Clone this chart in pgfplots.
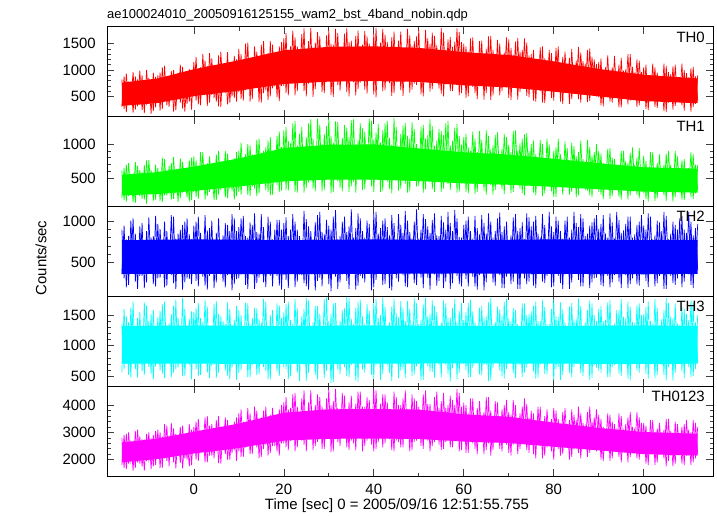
\documentclass[border=0pt]{standalone}
\usepackage{pgfplots}
\usepackage{pgfplotstable}
\pgfplotsset{compat=1.18}
\usepackage{fontspec}
\setmainfont{Liberation Sans}
\definecolor{cR}{RGB}{255,0,0}
\definecolor{cG}{RGB}{0,255,0}
\definecolor{cB}{RGB}{0,0,255}
\definecolor{cC}{RGB}{0,255,255}
\definecolor{cM}{RGB}{255,0,255}
\pgfplotstableread{
t a b c d e f g h i j
-16.0 820 610 900 1350 2800 300 210 350 560 1800
-15.5 260 180 300 620 1700 880 650 950 1600 2900
-15.0 930 700 780 1480 2950 200 160 190 700 1650
-14.5 350 240 220 520 1850 780 720 820 1380 3000
-14.0 760 560 1010 1620 2700 390 280 400 480 1950
-13.5 190 150 380 700 1600 960 540 1040 1720 2600
-13.0 880 740 850 1300 3050 250 140 260 610 1700
-12.5 310 260 170 480 1900 820 680 740 1450 3100
-12.0 990 620 940 1550 2850 340 240 330 760 1850
-11.5 240 200 330 580 1750 900 590 980 1250 2750
-11.0 720 690 760 1710 2650 180 190 180 520 1600
-10.5 380 130 250 750 1950 1000 760 880 1660 2950
-10.0 850 770 1050 1400 3000 360 270 420 650 2000
-9.5 170 280 410 530 1650 740 620 800 1520 2700
-9.0 950 530 820 1590 2900 220 170 230 450 1750
-8.5 290 190 200 660 1800 870 700 1070 1300 3050
-8.0 900 650 970 1460 3100 420 300 300 700 2100
-7.5 230 170 310 590 1700 950 600 910 1570 3000
-7.0 1050 800 730 1680 2850 260 150 380 540 1700
-6.5 410 250 190 470 2050 1080 780 1000 1720 3300
-6.0 820 580 880 1330 3250 330 250 210 780 1950
-5.5 300 310 360 720 1750 800 680 760 1360 2800
-5.0 980 720 1080 1520 3350 450 190 340 480 2100
-4.5 210 200 240 560 1900 1000 810 1060 1650 3150
-4.0 870 610 790 1750 2950 240 280 170 620 1680
-3.5 440 150 420 640 2150 900 560 850 1450 2900
-3.0 1100 790 900 1280 3200 380 210 400 730 1880
-2.5 270 290 160 500 1680 1060 740 960 1780 3250
-2.0 790 540 1000 1600 2780 210 320 250 510 2050
-1.5 360 220 300 780 2000 850 620 1040 1300 2750
-1.0 1020 760 840 1440 3300 400 160 290 680 1750
-0.5 250 180 230 450 1800 990 800 780 1560 3100
0.0 1150 820 950 1550 3200 500 300 380 700 2250
0.5 420 230 270 610 2000 1250 760 1000 1620 3400
1.0 980 660 1060 1700 3500 350 200 200 500 1950
1.5 330 340 380 520 2300 1050 880 860 1450 3050
2.0 1300 880 770 1380 3050 600 350 320 790 2350
2.5 550 190 210 740 1900 1180 640 1080 1750 3550
3.0 1080 720 890 1640 3600 320 240 160 560 1900
3.5 380 300 330 470 2150 1320 820 920 1300 3250
4.0 1220 610 1010 1290 3300 530 370 410 660 2150
4.5 470 180 180 690 2050 990 700 780 1680 3000
5.0 1000 850 860 1730 3450 400 180 250 470 2300
5.5 310 260 400 560 1870 1280 900 1040 1520 3600
6.0 1350 700 720 1480 3100 300 330 350 740 1850
6.5 590 370 260 800 2350 1100 660 830 1400 3150
7.0 1120 900 980 1350 3550 560 220 190 590 2200
7.5 350 210 340 510 2000 1340 860 960 1710 3450
8.0 960 640 880 1600 3000 380 350 380 450 2000
8.5 500 320 150 640 2250 1020 730 1090 1330 3100
9.0 1270 790 1040 1420 3400 470 190 230 780 2350
9.5 400 240 290 440 1950 1200 880 880 1650 3550
10.0 1400 900 930 1580 3700 580 300 300 550 2300
10.5 450 260 350 600 2100 1300 1020 1040 1500 3850
11.0 1150 780 1070 1320 3400 420 410 390 740 2100
11.5 620 410 220 720 2450 1500 850 820 1700 3350
12.0 1520 1000 800 1690 3900 660 260 170 480 2500
12.5 400 240 380 480 2200 1180 980 990 1350 3700
13.0 1230 850 960 1450 3300 450 380 350 680 2200
13.5 690 350 170 770 2550 1450 760 1100 1620 3950
14.0 1350 1060 870 1610 3800 700 240 240 520 2450
14.5 390 280 310 530 2050 1250 1080 850 1430 3500
15.0 1480 820 1090 1380 3550 380 430 420 760 2100
15.5 560 440 250 650 2400 1550 900 930 1760 3800
16.0 1200 950 760 1720 3950 620 330 190 590 2550
16.5 430 300 420 450 2150 1320 1050 1060 1310 3300
17.0 1550 1100 1000 1500 3650 500 250 330 450 2250
17.5 650 260 200 700 2500 1480 780 780 1580 3900
18.0 1280 880 900 1290 3400 690 450 400 720 2500
18.5 480 400 330 580 2300 1150 1120 1020 1690 3600
19.0 1450 1180 1020 1660 3850 410 300 210 500 2150
19.5 700 320 160 760 2600 1530 960 900 1450 4000
20.0 1600 1200 980 1540 4100 700 450 350 650 2600
20.5 560 330 280 620 2450 1700 1250 1050 1680 4300
21.0 1380 1050 820 1720 3850 520 320 180 450 2350
21.5 790 470 390 500 2700 1450 1010 900 1420 3900
22.0 1750 1300 1090 1350 4400 820 500 420 780 2800
22.5 520 300 190 740 2300 1620 1340 1000 1760 4450
23.0 1450 980 900 1610 3950 600 290 260 560 2450
23.5 830 510 350 420 2800 1380 1150 820 1330 3750
24.0 1680 1250 760 1480 4250 760 520 340 700 2700
24.5 600 290 240 680 2550 1790 960 1130 1600 4550
25.0 1350 1100 1030 1780 3700 500 360 200 420 2300
25.5 740 440 160 560 2850 1550 1300 940 1740 4100
26.0 1800 1360 880 1310 4550 840 470 390 760 2850
26.5 490 350 410 790 2350 1430 1080 780 1380 3800
27.0 1520 920 990 1650 4000 640 310 150 520 2500
27.5 860 530 270 450 2650 1720 1370 1080 1650 4400
28.0 1640 1280 1120 1520 4300 780 540 310 800 2750
28.5 580 310 200 700 2400 1350 1000 870 1300 3950
29.0 1400 1150 840 1760 3800 560 330 420 470 2400
29.5 780 480 380 590 2900 1660 1260 1020 1790 4250
30.0 1760 1380 950 1400 4600 850 490 230 690 2800
30.5 530 280 140 390 2280 1500 1120 900 1520 4000
31.0 1480 1020 1060 1690 4150 490 300 380 400 2300
31.5 820 500 320 760 2750 1780 1330 1140 1700 4600
32.0 1700 1320 780 1330 3900 720 460 170 610 2650
32.5 610 360 250 540 2500 1410 970 820 1410 3700
33.0 1330 1090 1000 1580 4450 830 310 350 770 2850
33.5 850 540 420 650 2850 1690 1280 1060 1610 4350
34.0 1790 1240 870 1800 3750 580 520 270 500 2450
34.5 500 300 170 480 2350 1530 1100 940 1780 4100
35.0 1560 1350 1150 1440 4350 800 380 410 680 2700
35.5 770 450 360 720 2600 1360 1360 800 1350 3850
36.0 1650 960 920 1620 4050 520 290 160 430 2350
36.5 640 520 210 410 2800 1750 1050 1100 1720 4500
37.0 1420 1300 1040 1750 4500 760 510 330 750 2800
37.5 840 330 300 610 2300 1480 1230 880 1480 3950
38.0 1740 1180 800 1360 3950 630 340 250 560 2500
38.5 550 490 400 780 2700 1640 990 1010 1680 4300
39.0 1500 1370 970 1570 4200 850 480 400 720 2850
39.5 800 380 150 520 2550 1390 1340 770 1320 3800
40.0 1690 1060 1100 1700 4600 540 300 190 460 2300
40.5 480 510 280 680 2400 1800 1170 1120 1760 4550
41.0 1360 1290 850 1450 3800 790 530 360 790 2650
41.5 880 300 370 440 2850 1520 1020 920 1500 4050
42.0 1780 1200 1010 1790 4400 600 320 220 540 2450
42.5 620 470 230 700 2600 1670 1300 1040 1640 4400
43.0 1530 1340 930 1320 4100 840 450 420 680 2800
43.5 750 350 180 560 2750 1420 1090 830 1380 3700
44.0 1620 990 1080 1640 3700 510 280 150 420 2350
44.5 560 530 410 750 2300 1730 1380 980 1770 4500
45.0 1440 1250 780 1530 4300 770 500 300 720 2700
45.5 860 320 260 470 2650 1560 950 1090 1460 4000
46.0 1730 1150 960 1730 4000 620 350 380 590 2450
46.5 510 460 340 620 2450 1340 1270 860 1610 4250
47.0 1390 1310 1130 1400 4550 820 420 200 470 2850
47.5 800 290 190 800 2800 1780 1120 1010 1730 3850
48.0 1660 1080 870 1600 3850 570 310 350 780 2300
48.5 630 500 390 500 2350 1460 1320 790 1360 4400
49.0 1550 1220 1000 1780 4250 740 530 240 530 2650
49.5 720 380 220 660 2700 1640 1000 1150 1690 4150
50.0 1770 940 790 1350 3950 850 390 400 700 2800
50.5 540 510 310 430 2500 1400 1250 900 1420 3750
51.0 1340 1280 1090 1670 4400 500 290 180 440 2400
51.5 870 340 400 730 2850 1760 1080 1030 1780 4550
52.0 1600 1130 940 1480 4050 780 480 310 660 2700
52.5 590 460 160 580 2300 1490 1360 860 1510 4050
53.0 1710 1260 1020 1740 3750 640 340 420 570 2500
53.5 760 300 350 480 2650 1650 970 1100 1650 4300
54.0 1470 1050 830 1550 4500 810 510 210 760 2850
54.5 650 490 270 690 2550 1370 1220 820 1330 3900
55.0 1800 1190 1070 1380 4150 550 300 350 480 2350
55.5 500 350 180 770 2400 1710 1130 990 1740 4450
56.0 1380 1300 900 1690 3900 730 470 260 690 2650
56.5 840 420 420 540 2800 1580 1340 1120 1450 4000
57.0 1630 980 980 1460 4350 600 330 170 410 2450
57.5 600 520 240 630 2450 1440 1050 880 1620 4200
58.0 1540 1240 1140 1760 4000 840 540 390 780 2800
58.5 790 290 330 450 2700 1790 1290 1040 1390 4600
59.0 1720 1120 810 1570 4450 520 310 230 560 2300
59.5 560 450 200 710 2350 1530 990 800 1700 3950
60.0 1500 1100 960 1420 4100 750 460 380 700 2700
60.5 470 300 290 600 2250 1450 1150 1010 1550 4000
61.0 1350 950 1060 1700 3700 500 280 200 480 2250
61.5 720 480 380 490 2650 1600 900 880 1750 4250
62.0 1620 1180 790 1560 4250 680 420 320 640 2600
62.5 560 270 200 760 2400 1300 1080 1070 1380 3600
63.0 1280 880 920 1330 3900 450 300 160 770 2200
63.5 760 430 340 530 2750 1550 1190 840 1620 4150
64.0 1560 1060 1080 1650 3550 770 490 410 520 2750
64.5 440 320 150 690 2200 1230 860 980 1450 3750
65.0 1400 1200 850 1480 4300 560 260 250 680 2350
65.5 690 490 410 420 2600 1640 1120 1100 1710 4300
66.0 1650 920 1000 1780 3800 430 400 360 430 2150
66.5 520 260 250 640 2350 1380 980 800 1360 3500
67.0 1240 1130 880 1390 4150 700 330 210 740 2650
67.5 780 410 370 780 2700 1570 1170 1040 1640 4100
68.0 1500 850 1110 1590 3600 520 480 340 590 2400
68.5 600 340 180 500 2300 1260 930 870 1480 3850
69.0 1330 1150 940 1720 4000 760 270 180 460 2700
69.5 730 470 320 620 2550 1620 1100 1000 1770 4200
70.0 1580 990 770 1440 3750 470 420 390 720 2250
70.5 430 280 230 730 2150 1420 880 830 1400 3650
71.0 1290 1190 1050 1620 4200 660 300 260 550 2550
71.5 700 460 400 470 2700 1540 1200 1090 1580 4000
72.0 1610 900 880 1350 3500 440 460 170 780 2200
72.5 580 350 170 680 2400 1350 1010 920 1300 3700
73.0 1380 1080 990 1690 3950 730 280 400 490 2650
73.5 750 250 300 560 2650 1600 1140 780 1690 4250
74.0 1520 1160 1100 1500 4050 510 390 230 640 2350
74.5 480 420 260 750 2250 1280 900 1050 1520 3550
75.0 1300 1000 940 1560 3800 650 400 350 720 2550
75.5 420 290 210 580 2200 1380 1050 1000 1650 3700
76.0 1150 850 1070 1720 3400 400 250 180 460 2050
76.5 640 410 380 480 2550 1200 800 850 1400 3950
77.0 1430 1060 800 1400 3950 600 430 410 690 2500
77.5 380 240 260 720 2050 1450 1000 1090 1740 3300
78.0 1220 780 960 1630 3600 370 280 240 540 2150
78.5 600 440 330 530 2450 1100 1080 780 1350 3850
79.0 1380 990 1120 1350 3250 640 380 360 780 2600
79.5 470 310 190 790 2300 1320 760 940 1600 3500
80.0 1100 900 870 1760 3900 420 230 200 430 2000
80.5 680 230 410 620 2600 1420 950 1060 1480 3800
81.0 1450 1080 1010 1470 3500 580 440 330 650 2400
81.5 400 380 240 440 2150 1080 850 880 1710 3250
82.0 1250 760 790 1590 3750 360 260 170 520 2200
82.5 620 450 350 700 2500 1350 1040 1010 1380 3900
83.0 1060 940 1060 1320 3300 680 400 390 760 2550
83.5 360 260 170 560 2000 1230 740 800 1640 3450
84.0 1400 1020 900 1700 3850 450 300 250 480 2100
84.5 560 400 390 650 2400 1060 970 1120 1430 3650
85.0 1180 820 980 1430 3450 620 220 360 700 2450
85.5 450 250 280 760 2250 1440 880 930 1770 3950
86.0 1330 1050 1090 1650 3700 380 420 200 550 2050
86.5 670 390 200 500 2550 1170 780 1040 1330 3350
87.0 1120 730 820 1380 3200 560 330 410 740 2500
87.5 390 320 360 730 2100 1380 1060 850 1580 3750
88.0 1410 960 950 1740 3950 410 250 180 440 2250
88.5 580 220 250 470 2450 1250 830 990 1690 3400
89.0 1200 880 1040 1500 3550 660 410 300 680 2600
89.5 500 420 310 640 2300 1110 1000 1080 1400 3850
90.0 1150 900 910 1600 3650 480 300 380 590 2350
90.5 330 260 220 560 2000 1220 860 970 1650 3500
91.0 980 720 1080 1400 3200 310 200 200 720 1950
91.5 540 380 370 760 2350 1050 700 850 1420 3100
92.0 1280 930 800 1710 3700 570 390 330 480 2400
92.5 400 200 190 490 1950 930 940 1100 1750 3650
93.0 1050 800 990 1330 3400 380 240 250 650 2050
93.5 560 350 340 680 2450 1270 780 790 1360 3300
94.0 920 680 1120 1580 3050 520 360 400 770 2300
94.5 290 230 260 540 2100 1100 670 1020 1580 3700
95.0 1230 900 860 1760 3600 290 190 180 500 1900
95.5 480 390 400 750 2300 990 900 890 1470 3050
96.0 1010 750 970 1450 3300 560 330 340 690 2450
96.5 350 190 180 460 1900 1300 720 1060 1720 3550
97.0 1300 870 1060 1640 3750 420 250 230 440 2100
97.5 520 330 300 700 2400 1060 950 800 1390 3200
98.0 950 700 840 1370 3150 580 390 390 740 2350
98.5 300 260 230 590 2050 1200 800 960 1660 3750
99.0 1180 940 1000 1690 3550 330 210 210 560 2000
99.5 580 360 350 800 2250 960 660 1080 1500 3350
100.0 1050 830 950 1520 3350 420 280 350 700 2200
100.5 260 200 270 540 1850 1100 750 900 1630 3250
101.0 880 650 1100 1720 3000 240 160 190 460 1800
101.5 430 330 380 690 2250 900 880 1060 1400 3450
102.0 1120 880 780 1360 3450 470 350 400 740 2300
102.5 300 170 200 470 1800 1050 620 830 1760 2950
103.0 950 720 1010 1620 3150 280 210 240 520 1900
103.5 470 300 330 760 2300 820 850 990 1330 3350
104.0 810 600 880 1430 2900 440 320 360 680 2250
104.5 220 250 170 520 2050 1120 700 1120 1580 3100
105.0 1080 860 1070 1780 3500 200 170 170 430 1750
105.5 380 360 410 650 1950 960 900 780 1700 3500
106.0 920 700 850 1480 3050 400 340 330 790 2150
106.5 250 160 240 430 1750 1070 640 1000 1450 2900
107.0 1100 900 960 1690 3400 320 230 220 560 1850
107.5 450 320 300 740 2200 860 820 900 1360 3300
108.0 790 620 1040 1340 2950 480 360 410 700 2300
108.5 330 190 190 580 1850 1120 760 1070 1640 3200
109.0 1000 780 900 1600 3300 230 180 260 470 1800
109.5 410 350 360 700 2150 940 600 860 1520 3450
110.0 860 650 1120 1420 3100 450 310 350 650 2250
110.5 210 230 220 480 1800 1030 880 1000 1740 3000
111.0 1060 850 830 1700 3450 300 200 180 500 1900
111.5 360 280 390 620 2050 880 700 920 1380 3350
112.0 900 700 970 1500 3200 420 330 400 720 2200
}\lc
\pgfplotsset{
  panel/.style={
    width=606bp, height=89.8bp, scale only axis, anchor=north west,
    xmin=-19.3, xmax=115.4,
    xtick={0,20,...,100}, minor x tick num=1,
    minor y tick num=4,
    tick align=inside,
    major tick length=7bp, minor tick length=3.5bp,
    every tick/.style={black!75, line width=0.6bp},
    axis line style={line width=1bp},
    scaled y ticks=false,
    /pgf/number format/1000 sep={},
    /pgf/number format/assume math mode=true,
    tick label style={font=\fontsize{15}{18}\selectfont},
    yticklabel style={anchor=east, inner sep=0pt, xshift=-11bp},
    xticklabel style={anchor=north, inner sep=0pt, yshift=-8bp},
    clip=true,
  },
  nolab/.style={xticklabel=\empty},
  zz/.style={line width=0.7bp, mark=none},
}
\begin{document}
\begin{tikzpicture}
\path[use as bounding box] (-107bp,27bp) rectangle (610bp,-489bp);
% TH0
\begin{axis}[panel, nolab, at={(0bp,0bp)}, ymin=112, ymax=1817, ytick={500,1000,1500}]
\addplot[fill=cR, draw=none] coordinates {(-16,760) (-8,840) (0,1015) (10,1185) (20,1375) (30,1440) (40,1450) (50,1420) (60,1340) (70,1285) (80,1165) (90,1020) (100,910) (112,840) (112,370) (100,410) (90,500) (80,590) (70,670) (60,710) (50,775) (40,790) (30,780) (20,735) (10,610) (0,505) (-8,375) (-16,320)} -- cycle;
\addplot[cR, zz] table[x=t, y=a] {\lc};
\addplot[cR, zz] table[x=t, y=f] {\lc};
\node[anchor=north east, inner sep=0pt, font=\fontsize{15}{18}\selectfont] at (rel axis cs:1,1) [xshift=-8bp, yshift=-4.7bp] {TH0};
\end{axis}
% TH1
\begin{axis}[panel, nolab, at={(0bp,-89.8bp)}, ymin=86, ymax=1398, ytick={500,1000}]
\addplot[fill=cG, draw=none] coordinates {(-16,550) (-8,590) (0,670) (10,790) (20,940) (30,990) (40,995) (50,935) (60,880) (70,845) (80,785) (90,720) (100,660) (112,640) (112,290) (100,305) (90,340) (80,375) (70,405) (60,425) (50,460) (40,480) (30,480) (20,455) (10,380) (0,315) (-8,270) (-16,250)} -- cycle;
\addplot[cG, zz] table[x=t, y=b] {\lc};
\addplot[cG, zz] table[x=t, y=g] {\lc};
\node[anchor=north east, inner sep=0pt, font=\fontsize{15}{18}\selectfont] at (rel axis cs:1,1) [xshift=-8bp, yshift=-4.7bp] {TH1};
\end{axis}
% TH2
\begin{axis}[panel, nolab, at={(0bp,-179.6bp)}, ymin=77, ymax=1184, ytick={500,1000}]
\addplot[fill=cB, draw=none] coordinates {(-16,770) (0,780) (20,770) (40,780) (60,770) (80,780) (100,770) (112,770) (112,355) (100,350) (80,355) (60,360) (40,355) (20,350) (0,355) (-16,355)} -- cycle;
\addplot[cB, zz] table[x=t, y=c] {\lc};
\addplot[cB, zz] table[x=t, y=h] {\lc};
\node[anchor=north east, inner sep=0pt, font=\fontsize{15}{18}\selectfont] at (rel axis cs:1,1) [xshift=-8bp, yshift=-4.7bp] {TH2};
\end{axis}
% TH3
\begin{axis}[panel, nolab, at={(0bp,-269.4bp)}, ymin=336, ymax=1806, ytick={500,1000,1500}]
\addplot[fill=cC, draw=none] coordinates {(-16,1320) (0,1330) (20,1320) (40,1330) (60,1320) (80,1320) (100,1330) (112,1320) (112,705) (100,700) (80,705) (60,710) (40,705) (20,700) (0,705) (-16,705)} -- cycle;
\addplot[cC, zz] table[x=t, y=d] {\lc};
\addplot[cC, zz] table[x=t, y=i] {\lc};
\node[anchor=north east, inner sep=0pt, font=\fontsize{15}{18}\selectfont] at (rel axis cs:1,1) [xshift=-8bp, yshift=-4.7bp] {TH3};
\end{axis}
% TH0123
\begin{axis}[panel, at={(0bp,-359.2bp)}, ymin=1397, ymax=4700, ytick={2000,3000,4000}]
\addplot[fill=cM, draw=none] coordinates {(-16,2625) (-8,2775) (0,3025) (10,3325) (20,3725) (30,3850) (40,3860) (50,3840) (60,3665) (70,3575) (80,3360) (90,3165) (100,3015) (112,2950) (112,2150) (100,2200) (90,2340) (80,2475) (70,2610) (60,2665) (50,2760) (40,2775) (30,2765) (20,2700) (10,2425) (0,2225) (-8,2025) (-16,1900)} -- cycle;
\addplot[cM, zz] table[x=t, y=e] {\lc};
\addplot[cM, zz] table[x=t, y=j] {\lc};
\node[anchor=north east, inner sep=0pt, font=\fontsize{15}{18}\selectfont] at (rel axis cs:1,1) [xshift=-8bp, yshift=-4.7bp] {TH0123};
\end{axis}
\node[anchor=base west, inner sep=0pt, font=\fontsize{13}{16}\selectfont] at (0bp,8.7bp) {ae100024010\_20050916125155\_wam2\_bst\_4band\_nobin.qdp};
\node[anchor=north, inner sep=0pt, font=\fontsize{15}{18}\selectfont] at (290bp,-471bp) {Time [sec] 0 = 2005/09/16 12:51:55.755};
\node[rotate=90, inner sep=0pt, font=\fontsize{15}{18}\selectfont] at (-66bp,-231bp) {Counts/sec};
\end{tikzpicture}
\end{document}
